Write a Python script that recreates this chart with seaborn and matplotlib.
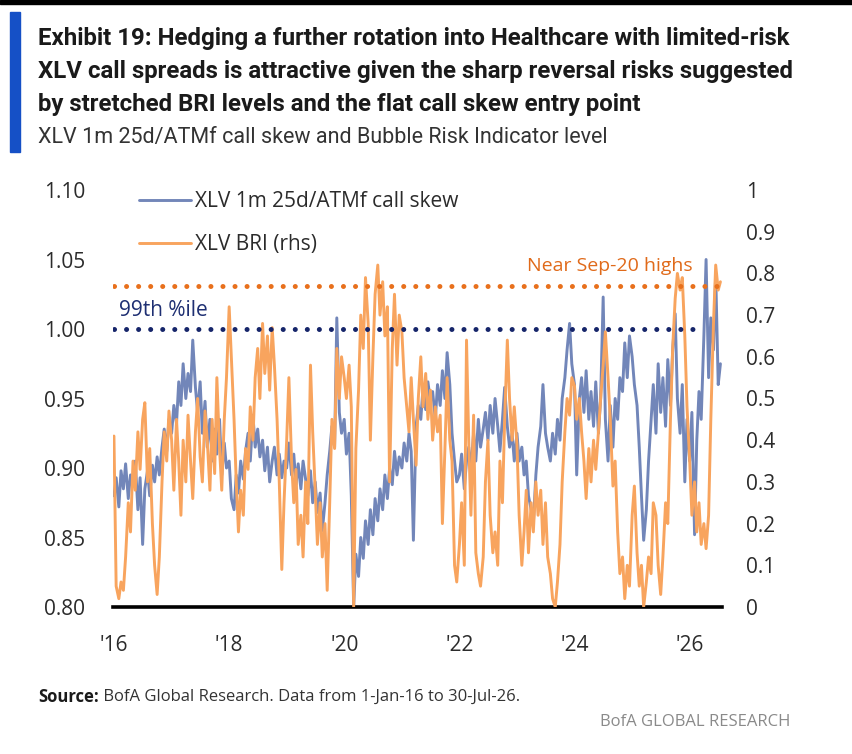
import matplotlib
matplotlib.use('Agg')
import matplotlib.pyplot as plt
import matplotlib.dates as mdates
from matplotlib.patches import Rectangle
import numpy as np
import pandas as pd
import seaborn as sns

# semi-monthly readings, 1-Jan-16 .. 15-Jul-26
dates = pd.date_range('2016-01-01', '2026-07-15', freq='SMS')

# XLV 1m 25d/ATMf call skew (lhs)
skew = [
    0.880, 0.893, 0.872, 0.898, 0.885, 0.903, 0.878, 0.895, 0.888, 0.905, 0.870, 0.893,
    0.845, 0.885, 0.898, 0.880, 0.902, 0.890, 0.908, 0.895, 0.915, 0.928, 0.912, 0.935,  # 2016
    0.925, 0.945, 0.932, 0.962, 0.945, 0.975, 0.950, 0.968, 0.955, 0.992, 0.958, 0.940,
    0.962, 0.925, 0.948, 0.915, 0.935, 0.905, 0.928, 0.910, 0.935, 0.895, 0.918, 0.900,  # 2017
    0.905, 0.878, 0.870, 0.895, 0.882, 0.905, 0.892, 0.912, 0.925, 0.905, 0.938, 0.915,
    0.928, 0.908, 0.920, 0.898, 0.915, 0.890, 0.905, 0.915, 0.895, 0.910, 0.893, 0.905,  # 2018
    0.900, 0.918, 0.895, 0.910, 0.888, 0.903, 0.885, 0.905, 0.892, 0.880, 0.898, 0.875,
    0.890, 0.868, 0.882, 0.855, 0.875, 0.895, 0.912, 0.930, 0.915, 1.008, 0.940, 0.925,  # 2019
    0.935, 0.910, 0.925, 0.880, 0.800, 0.838, 0.822, 0.850, 0.835, 0.862, 0.845, 0.870,
    0.852, 0.878, 0.862, 0.885, 0.870, 0.895, 0.878, 0.900, 0.888, 0.912, 0.895, 0.908,  # 2020
    0.900, 0.918, 0.905, 0.925, 0.912, 0.848, 0.930, 0.945, 0.935, 0.958, 0.942, 0.962,
    0.948, 0.955, 0.935, 0.960, 0.945, 0.970, 0.950, 0.983, 0.960, 0.925, 0.905, 0.890,  # 2021
    0.895, 0.910, 0.885, 0.905, 0.915, 0.898, 0.925, 0.905, 0.935, 0.915, 0.928, 0.940,
    0.920, 0.945, 0.925, 0.950, 0.930, 0.912, 0.935, 0.958, 0.930, 0.915, 0.925, 0.905,  # 2022
    0.925, 0.905, 0.915, 0.895, 0.905, 0.880, 0.870, 0.860, 0.895, 0.915, 0.930, 0.960,
    0.925, 0.915, 0.905, 0.925, 0.910, 0.935, 0.920, 0.950, 0.965, 0.985, 1.004, 0.975,  # 2023
    0.960, 0.895, 0.950, 0.965, 0.940, 0.970, 0.935, 0.955, 0.930, 0.962, 0.925, 0.950,
    1.023, 0.935, 0.905, 0.945, 0.915, 0.950, 0.935, 0.965, 0.955, 0.990, 0.965, 0.995,  # 2024
    0.980, 0.960, 0.945, 0.915, 0.880, 0.848, 0.870, 0.905, 0.935, 0.960, 0.925, 0.975,
    0.940, 0.965, 0.930, 0.978, 0.945, 0.985, 1.011, 0.950, 0.925, 0.960, 0.890, 0.935,  # 2025
    0.905, 0.940, 0.852, 0.920, 0.955, 0.935, 0.995, 1.050, 0.965, 1.008, 0.985, 1.040,
    0.960, 0.975,                                                                        # 2026
]

# XLV Bubble Risk Indicator (rhs)
bri = [
    0.41, 0.05, 0.02, 0.06, 0.04, 0.12, 0.25, 0.18, 0.35, 0.28, 0.42, 0.33,
    0.45, 0.49, 0.30, 0.38, 0.20, 0.10, 0.03, 0.12, 0.30, 0.42, 0.35, 0.47,  # 2016
    0.40, 0.28, 0.45, 0.35, 0.22, 0.40, 0.30, 0.46, 0.35, 0.26, 0.42, 0.50,
    0.36, 0.30, 0.47, 0.40, 0.28, 0.45, 0.32, 0.55, 0.38, 0.28, 0.45, 0.55,  # 2017
    0.72, 0.60, 0.45, 0.30, 0.18, 0.28, 0.22, 0.38, 0.33, 0.48, 0.40, 0.55,
    0.62, 0.50, 0.68, 0.56, 0.65, 0.52, 0.67, 0.58, 0.45, 0.30, 0.09, 0.25,  # 2018
    0.40, 0.55, 0.35, 0.25, 0.33, 0.15, 0.22, 0.12, 0.30, 0.20, 0.58, 0.42,
    0.28, 0.15, 0.25, 0.12, 0.20, 0.04, 0.25, 0.45, 0.38, 0.62, 0.50, 0.60,  # 2019
    0.55, 0.50, 0.58, 0.48, 0.00, 0.38, 0.52, 0.70, 0.62, 0.79, 0.68, 0.40,
    0.60, 0.75, 0.82, 0.70, 0.78, 0.65, 0.72, 0.30, 0.62, 0.75, 0.58, 0.70,  # 2020
    0.66, 0.55, 0.48, 0.42, 0.55, 0.45, 0.34, 0.50, 0.60, 0.48, 0.56, 0.45,
    0.52, 0.40, 0.48, 0.42, 0.46, 0.20, 0.38, 0.55, 0.40, 0.35, 0.10, 0.06,  # 2021
    0.15, 0.25, 0.10, 0.64, 0.40, 0.22, 0.46, 0.13, 0.08, 0.05, 0.12, 0.30,
    0.40, 0.22, 0.13, 0.18, 0.10, 0.35, 0.25, 0.45, 0.64, 0.50, 0.40, 0.48,  # 2022
    0.39, 0.22, 0.10, 0.18, 0.28, 0.13, 0.25, 0.18, 0.30, 0.22, 0.28, 0.15,
    0.25, 0.12, 0.08, 0.02, 0.00, 0.06, 0.15, 0.30, 0.42, 0.50, 0.46, 0.55,  # 2023
    0.53, 0.45, 0.50, 0.42, 0.35, 0.26, 0.38, 0.30, 0.40, 0.33, 0.42, 0.50,
    0.58, 0.66, 0.55, 0.45, 0.29, 0.35, 0.18, 0.08, 0.12, 0.02, 0.10, 0.05,  # 2024
    0.22, 0.29, 0.13, 0.05, 0.10, 0.00, 0.06, 0.12, 0.08, 0.25, 0.22, 0.10,
    0.03, 0.12, 0.25, 0.20, 0.45, 0.62, 0.74, 0.80, 0.76, 0.79, 0.65, 0.48,  # 2025
    0.35, 0.22, 0.30, 0.18, 0.25, 0.15, 0.20, 0.14, 0.22, 0.45, 0.68, 0.82,
    0.76, 0.78,                                                              # 2026
]

pct99_skew = 1.00        # 99th percentile of call skew
sep20_bri = 0.77         # BRI level near the Sep-20 highs
pct99_end = pd.Timestamp('2026-04-01')

left_ticks = [0.80, 0.85, 0.90, 0.95, 1.00, 1.05, 1.10]
right_ticks = [0, 0.1, 0.2, 0.3, 0.4, 0.5, 0.6, 0.7, 0.8, 0.9, 1]
right_labels = ['0', '0.1', '0.2', '0.3', '0.4', '0.5', '0.6', '0.7', '0.8', '0.9', '1']

title_lines = [
    'Exhibit 19: Hedging a further rotation into Healthcare with limited-risk',
    'XLV call spreads is attractive given the sharp reversal risks suggested',
    'by stretched BRI levels and the flat call skew entry point',
]
subtitle = 'XLV 1m 25d/ATMf call skew and Bubble Risk Indicator level'

BLUE = '#7286b9'
ORANGE = '#f8a45e'
NAVY = '#16256a'
DOT_ORANGE = '#e8701c'
TXT = '#2b2b2b'

df = pd.DataFrame({'date': dates, 'skew': skew, 'bri': bri})

sns.set_style('white')
plt.rcParams['font.family'] = ['Open Sans', 'DejaVu Sans']
NARROW = ['Liberation Sans Narrow', 'Roboto', 'DejaVu Sans']

W, H = 853, 754
fig = plt.figure(figsize=(W / 100, H / 100), dpi=100)


def fx(px):
    return px / W


def fy(py):
    return 1 - py / H


ax = fig.add_axes([fx(113), fy(607), fx(722) - fx(113), fy(190) - fy(607)])
ax2 = ax.twinx()

sns.lineplot(data=df, x='date', y='skew', ax=ax, color=BLUE, linewidth=2.1, legend=False)
sns.lineplot(data=df, x='date', y='bri', ax=ax2, color=ORANGE, linewidth=2.1, legend=False)

# reference levels (dotted), drawn on the top axis so they sit above both series
to_rhs = lambda v: (v - left_ticks[0]) / (left_ticks[-1] - left_ticks[0])
dot_style = dict(linestyle=(0, (0.01, 2.4)), dash_capstyle='round', linewidth=3.6)
ax2.plot([dates[0], dates[-1]], [sep20_bri, sep20_bri], color=DOT_ORANGE, **dot_style)
ax2.plot([dates[0], pct99_end], [to_rhs(pct99_skew)] * 2, color=NAVY, **dot_style)

ax2.text(pd.Timestamp('2016-02-01'), to_rhs(pct99_skew) + 0.02, '99th %ile',
         color='#1e2f72', fontsize=15, va='bottom', ha='left')
ax2.text(pd.Timestamp('2026-01-20'), sep20_bri + 0.025, 'Near Sep-20 highs',
         color='#e06a1a', fontsize=14, va='bottom', ha='right')

ax.set_ylim(left_ticks[0], left_ticks[-1])
ax.set_yticks(left_ticks)
ax.set_yticklabels([f'{v:.2f}' for v in left_ticks])
ax2.set_ylim(0, 1)
ax2.set_yticks(right_ticks)
ax2.set_yticklabels(right_labels)
ax.set_xlim(pd.Timestamp('2015-12-26'), pd.Timestamp('2026-07-25'))
ax.xaxis.set_major_locator(mdates.YearLocator(2))
ax.xaxis.set_major_formatter(mdates.DateFormatter("'%y"))

for a in (ax, ax2):
    a.set_xlabel('')
    a.set_ylabel('')
    a.grid(False)
    for s in a.spines.values():
        s.set_visible(False)
ax.spines['bottom'].set_visible(True)
ax.spines['bottom'].set_color('black')
ax.spines['bottom'].set_linewidth(2.6)

ax.tick_params(axis='x', length=0, pad=20, labelsize=15, labelcolor=TXT)
ax.tick_params(axis='y', length=0, pad=20, labelsize=15, labelcolor=TXT)
ax2.tick_params(axis='y', length=0, pad=17, labelsize=15, labelcolor=TXT)

handles = [ax.get_lines()[0], ax2.get_lines()[0]]
ax2.legend(handles, ['XLV 1m 25d/ATMf call skew', 'XLV BRI (rhs)'],
           loc='upper left', bbox_to_anchor=(0.042, 0.997), frameon=False,
           fontsize=15, handlelength=2.5, handletextpad=0.2, labelspacing=1.05,
           borderpad=0, borderaxespad=0, labelcolor=TXT)

# header
fig.patches.append(Rectangle((0, fy(4)), 1, 1 - fy(4), transform=fig.transFigure,
                             color='black', zorder=0))
fig.patches.append(Rectangle((fx(10), fy(152)), fx(10), fy(12) - fy(152),
                             transform=fig.transFigure, color='#1550c6', zorder=1))

t_objs = []
for i, line in enumerate(title_lines):
    t_objs.append(fig.text(fx(38), fy(38 + i * 33.5), line, va='center', ha='left',
                           fontsize=17, fontweight='bold', color='#1a1a1a', family=NARROW))
sub = fig.text(fx(38), fy(137), subtitle, va='center', ha='left', fontsize=15,
               color='#333333', family=NARROW)

src_b = fig.text(fx(38), fy(697), 'Source:', va='center', ha='left', fontsize=12,
                 fontweight='bold', color='#1a1a1a')
src = fig.text(fx(38), fy(697), ' BofA Global Research. Data from 1-Jan-16 to 30-Jul-26.',
               va='center', ha='left', fontsize=12, color='#333333')
brand = fig.text(fx(790), fy(722), 'BofA GLOBAL RESEARCH', va='center', ha='right',
                 fontsize=12, color='#8a8a8a')

# fit header widths to the layout
fig.canvas.draw()
r = fig.canvas.get_renderer()
w1 = t_objs[0].get_window_extent(r).width
fs = 17 * (790 - 38) / w1
for t in t_objs:
    t.set_fontsize(fs)
ws = sub.get_window_extent(r).width
sub.set_fontsize(15 * (610 - 38) / ws)
bb = src_b.get_window_extent(r)
src.set_x(fx(bb.x1))

fig.savefig('out.png', dpi=100)
